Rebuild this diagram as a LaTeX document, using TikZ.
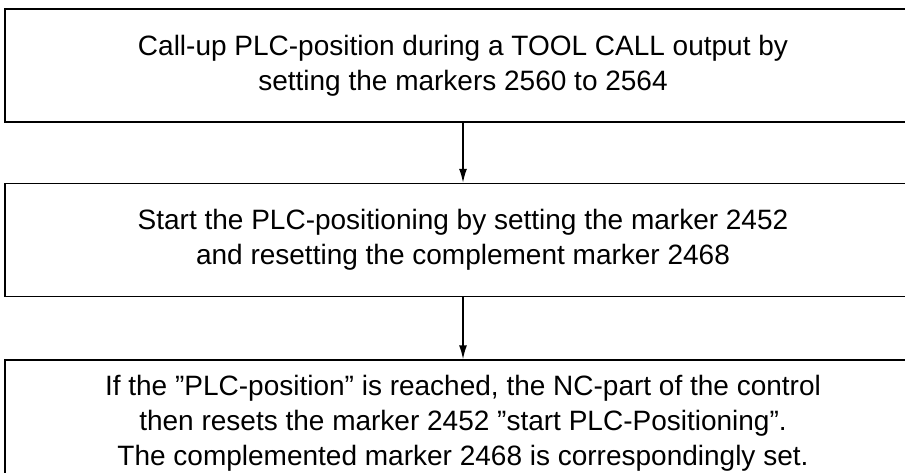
\documentclass[tikz,border=0pt]{standalone}
\usepackage{fontspec}
\setmainfont{Liberation Sans}
\usetikzlibrary{arrows.meta}
\begin{document}
\begin{tikzpicture}[x=1bp,y=1bp,
  flowbox/.style={draw=black, line width=1.4bp, rectangle, minimum width=916bp,
    minimum height=113bp, inner sep=0pt, align=center,
    font=\fontsize{28bp}{35bp}\selectfont},
  flowarrow/.style={draw=black, line width=1.5bp, -{Latex[length=14bp,width=8bp]}}]
\useasboundingbox (0,0) rectangle (905,473);
\clip (0,0) rectangle (905,473);
\node[flowbox] (b1) at (463,407.5) {Call-up PLC-position during a TOOL CALL output by\\setting the markers 2560 to 2564};
\node[flowbox] (b2) at (463,233) {Start the PLC-positioning by setting the marker 2452\\and resetting the complement marker 2468};
\node[flowbox, minimum height=120bp, text depth=0pt] (b3) at (463,53) {If the ''PLC-position'' is reached, the NC-part of the control\\then resets the marker 2452 ''start PLC-Positioning''.\\The complemented marker 2468 is correspondingly set.};
\draw[flowarrow] (b1.south) -- (b2.north);
\draw[flowarrow] (b2.south) -- (b3.north);
\end{tikzpicture}
\end{document}
